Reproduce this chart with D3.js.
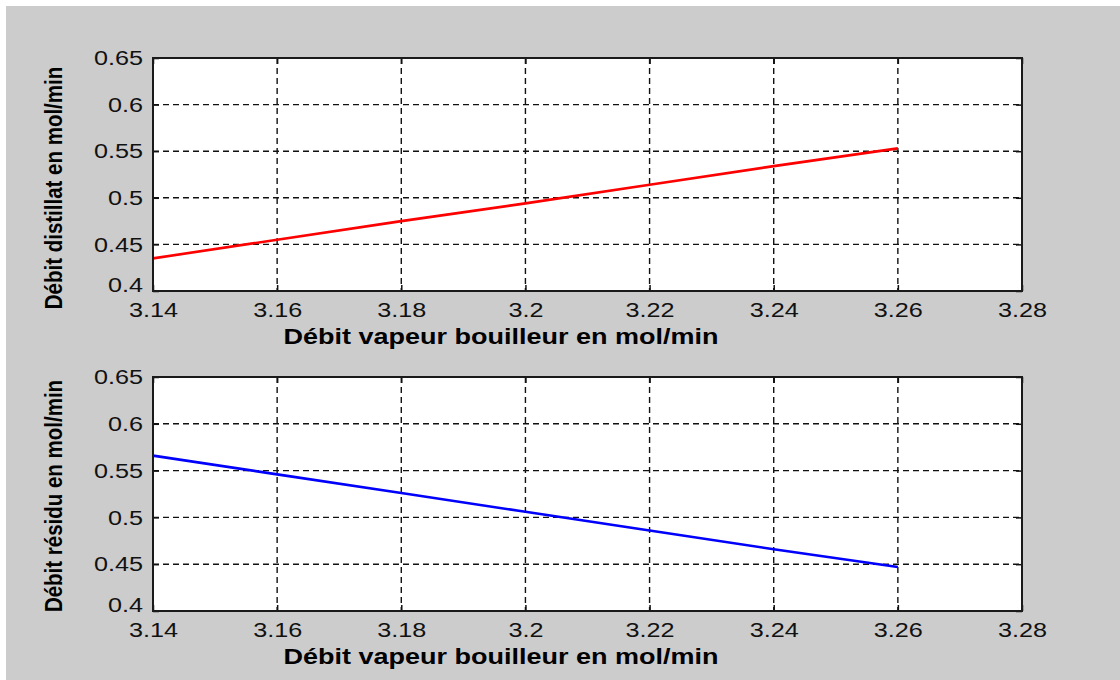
<!DOCTYPE html>
<html>
<head>
<meta charset="utf-8">
<script src="https://cdn.jsdelivr.net/npm/d3@7"></script>
<style>
  body { margin: 0; background: #fff; }
  text { font-family: Arial, "Liberation Sans", sans-serif; fill: #000; }
</style>
</head>
<body>
<div id="chart"></div>
<script>
// data
var vapeur = [3.14, 3.16, 3.18, 3.20, 3.22, 3.24, 3.26];
var distillat = [0.435, 0.455, 0.475, 0.494, 0.514, 0.534, 0.553];
var residu = [0.566, 0.546, 0.526, 0.506, 0.486, 0.466, 0.447];
var xTicks = [3.14, 3.16, 3.18, 3.2, 3.22, 3.24, 3.26, 3.28];
var yTicks = [0.4, 0.45, 0.5, 0.55, 0.6, 0.65];
var xTitle = "Débit vapeur bouilleur en mol/min";
var yTitles = ["Débit distillat en mol/min", "Débit résidu en mol/min"];

var width = 1120, height = 680;
var stretch = 1.2; // the original figure is a bit wider than tall
var svg = d3.select("#chart").append("svg")
    .attr("width", width)
    .attr("height", height);

// grey figure background
svg.append("rect").attr("x", 6).attr("y", 6)
    .attr("width", width - 6).attr("height", height - 6)
    .attr("fill", "#cccccc");

var x = d3.scaleLinear().domain([3.14, 3.28]).range([153, 1022]);

//one panel for each series
function panel(top, bottom, values, colour, yTitle, titleY) {
    var y = d3.scaleLinear().domain([0.4, 0.65]).range([bottom, top]);
    var g = svg.append("g");

    g.append("rect")
        .attr("x", x.range()[0]).attr("y", top)
        .attr("width", x.range()[1] - x.range()[0]).attr("height", bottom - top)
        .attr("fill", "#fff");

    // dashed grid
    g.selectAll(".gx").data(xTicks.slice(1, -1)).enter().append("line")
        .attr("x1", function(d) { return x(d); }).attr("x2", function(d) { return x(d); })
        .attr("y1", top).attr("y2", bottom)
        .attr("stroke", "#111").attr("stroke-width", 1.4).attr("stroke-dasharray", "6,4");
    g.selectAll(".gy").data(yTicks.slice(1, -1)).enter().append("line")
        .attr("x1", x.range()[0]).attr("x2", x.range()[1])
        .attr("y1", function(d) { return y(d); }).attr("y2", function(d) { return y(d); })
        .attr("stroke", "#111").attr("stroke-width", 1.4).attr("stroke-dasharray", "6,4");

    // the data line
    var line = d3.line()
        .x(function(d, i) { return x(vapeur[i]); })
        .y(function(d) { return y(d); });
    g.append("path").datum(values)
        .attr("d", line)
        .attr("fill", "none")
        .attr("stroke", colour)
        .attr("stroke-width", 2.6);

    // axes with inward ticks on all four sides
    var bottomAxis = d3.axisBottom(x).tickValues(xTicks).tickSizeInner(-6).tickSizeOuter(0)
        .tickFormat(d3.format(""));
    var topAxis = d3.axisTop(x).tickValues(xTicks).tickSizeInner(-6).tickSizeOuter(0).tickFormat("");
    var leftAxis = d3.axisLeft(y).tickValues(yTicks).tickSizeInner(-6).tickSizeOuter(0)
        .tickFormat(d3.format(""));
    var rightAxis = d3.axisRight(y).tickValues(yTicks).tickSizeInner(-6).tickSizeOuter(0).tickFormat("");

    var gb = g.append("g").attr("transform", "translate(0," + bottom + ")").call(bottomAxis);
    g.append("g").attr("transform", "translate(0," + top + ")").call(topAxis);
    var gl = g.append("g").attr("transform", "translate(" + x.range()[0] + ",0)").call(leftAxis);
    g.append("g").attr("transform", "translate(" + x.range()[1] + ",0)").call(rightAxis);

    g.selectAll(".domain").remove();
    g.selectAll(".tick line").attr("stroke", "#111").attr("stroke-width", 1.5);

    gb.selectAll("text")
        .attr("y", 11).attr("dy", "0.71em")
        .attr("transform", "scale(" + stretch + ",1)")
        .style("font-size", "21px").style("font-family", "Arial, 'Liberation Sans', sans-serif")
        .style("fill", "#111");
    gl.selectAll("text")
        .attr("x", -10 / stretch)
        .attr("dy", function(d) { return d == 0.4 ? "0.0em" : "0.32em"; })
        .attr("transform", "scale(" + stretch + ",1)")
        .style("font-size", "21px").style("font-family", "Arial, 'Liberation Sans', sans-serif")
        .style("fill", "#111");

    // box
    g.append("rect")
        .attr("x", x.range()[0]).attr("y", top)
        .attr("width", x.range()[1] - x.range()[0]).attr("height", bottom - top)
        .attr("fill", "none").attr("stroke", "#1a1a1a").attr("stroke-width", 2);

    // titles
    g.append("text")
        .attr("transform", "translate(501," + (bottom + 53) + ") scale(" + stretch + ",1)")
        .attr("text-anchor", "middle")
        .style("font-size", "22.5px").style("font-weight", "bold")
        .text(xTitle);
    g.append("text")
        .attr("transform", "translate(62," + titleY + ") scale(" + stretch + ",1) rotate(-90)")
        .attr("text-anchor", "middle")
        .style("font-size", "20.5px").style("font-weight", "bold")
        .text(yTitle);
}

panel(58, 291, distillat, "#ff0000", yTitles[0], 188);
panel(377, 611, residu, "#0000ff", yTitles[1], 496);
</script>
</body>
</html>
